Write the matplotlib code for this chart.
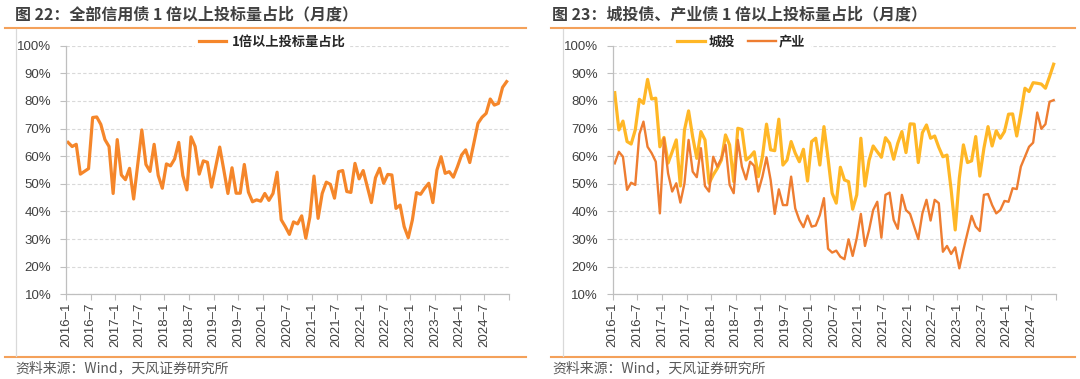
import matplotlib
matplotlib.use("Agg")
import matplotlib.pyplot as plt
from matplotlib.lines import Line2D
from matplotlib.ticker import FuncFormatter

# ---------------- data ----------------
tick_labels = ["2016–1", "2016–7", "2017–1", "2017–7", "2018–1", "2018–7",
               "2019–1", "2019–7", "2020–1", "2020–7", "2021–1", "2021–7",
               "2022–1", "2022–7", "2023–1", "2023–7", "2024–1", "2024–7"]

all_credit = [65, 63.5, 64.3, 53.5, 54.5, 55.5, 74, 74.2, 71.5, 66, 63.5, 46.5,
              66, 53.2, 51.5, 55.6, 44.5, 57, 69.5, 57, 54.5, 64.3, 53, 48.4,
              57.2, 56.5, 59, 65, 53, 47.8, 67, 63.5, 53.5, 58.3, 57.8, 48.8,
              56, 63.3, 55, 46.5, 55.8, 46.6, 46.6, 57, 47, 43.5, 44.2, 43.7,
              46.5, 44, 46.5, 54.2, 37, 34.5, 31.7, 36.2, 35.5, 38.4, 30.3, 38,
              52.8, 37.5, 46.5, 50.6, 49.8, 44.8, 54.4, 54.8, 47.2, 46.9, 57.4, 51.8,
              54.8, 49, 43.2, 52.2, 55.6, 50.2, 53.4, 53.2, 41.1, 42.3, 34.5, 30.5,
              36.9, 46.8, 46.2, 48.4, 50.2, 43.2, 55, 59.8, 53.8, 54.4, 52.4, 56.2,
              60.4, 62.3, 57.7, 64.7, 71.9, 74.1, 75.5, 80.7, 78.5, 79.1, 84.9, 87]

chengtou = [83, 69.5, 72.7, 65.3, 64.4, 69.5, 80.6, 79.1, 87.8, 80.7, 81, 63.4,
            66.8, 57.5, 61.6, 65.9, 49.2, 69.5, 76.4, 67, 59.2, 68.9, 65.9, 50.2,
            53.2, 55.6, 58.6, 67.7, 64.1, 50.8, 70.1, 69.7, 58.6, 59.8, 61.6, 52.6,
            59.8, 71.6, 62.3, 62, 73.4, 56.8, 58.6, 65.3, 61.1, 58, 62.5, 51,
            65.3, 66.5, 56.8, 70.7, 59.2, 46.6, 43, 56, 51.4, 50.8, 40.8, 46,
            66.5, 49.2, 58.5, 63.7, 61.6, 59.6, 66.7, 64.7, 58.9, 64.7, 68.9, 61.3,
            71.7, 71.6, 57.7, 68.5, 71.3, 66.5, 67.3, 63.2, 59.8, 60.4, 48, 33.3,
            52, 64.1, 57.7, 58.3, 67.1, 52.8, 62.9, 70.7, 63.7, 69.2, 66.5, 68.9,
            75.2, 75.3, 67.3, 75.5, 84.6, 83.4, 86.6, 86.4, 86.1, 84.6, 88.8, 93.3]

chanye = [57.4, 61.6, 59.8, 47.8, 50.4, 49.6, 68, 72.5, 63.4, 61.1, 58, 39.3,
          66.5, 53.8, 47.2, 50.2, 43.2, 50.2, 65.9, 54.4, 52.4, 62.9, 49.2, 47.2,
          59.8, 56.2, 59.2, 64.1, 49.6, 46.6, 65.9, 56.2, 51.6, 58, 56.5, 47.2,
          52.6, 59.6, 51.4, 39.1, 48, 42.3, 42.3, 52.6, 41.1, 36.9, 34.3, 38.5,
          34.5, 34.9, 38.7, 44.8, 26.5, 25.1, 25.8, 23.6, 22.7, 29.9, 23.9, 30.3,
          39.1, 27.5, 33.3, 40.5, 43.5, 30.5, 46, 46.8, 36.9, 33.7, 46, 40.5,
          39.1, 34.5, 30, 39.3, 44.2, 36.7, 44.2, 43, 25.4, 27.5, 24.6, 27,
          19.4, 26.1, 32.3, 38.4, 34.5, 32.9, 46, 46.3, 42.3, 39.3, 40.5, 43.8,
          43.5, 48.4, 48.1, 56.2, 59.8, 63.4, 64.9, 75.8, 69.9, 71.6, 79.7, 80.3]

titles = ["图 22：全部信用债 1 倍以上投标量占比（月度）",
          "图 23：城投债、产业债 1 倍以上投标量占比（月度）"]
source = "资料来源：Wind，天风证券研究所"

# ---------------- style ----------------
W, H = 1080, 379
CJK = ["Noto Sans CJK SC", "DejaVu Sans"]
NUM = ["Liberation Sans", "DejaVu Sans"]
TXT = "#404040"
GRID = "#D9D9D9"
AXC = "#BFBFBF"
C_ALL = "#F5862A"
C_CT = "#FFB726"
C_CY = "#EE7D31"
SEP = "#F4A15A"

fig = plt.figure(figsize=(W / 100, H / 100), dpi=100)


def fx(px):
    return px / W


def fy(py):
    return 1 - py / H


def make_axes(x0, x1):
    y0, y1 = 45.7, 294.3
    ax = fig.add_axes([fx(x0), fy(y1), fx(x1) - fx(x0), (y1 - y0) / H])
    n = len(all_credit)
    ax.set_xlim(-0.5, n - 0.5)
    ax.set_ylim(10, 100)
    ax.set_yticks(range(10, 101, 10))
    ax.yaxis.set_major_formatter(FuncFormatter(lambda v, p: f"{v:.0f}%"))
    ticks = [-0.5 + 6 * k for k in range(len(tick_labels))] + [n - 0.5]
    ax.set_xticks(ticks)
    ax.set_xticklabels(tick_labels + [""], rotation=90, fontfamily=NUM,
                       fontsize=9.5, color=TXT)
    for lab in ax.get_yticklabels():
        lab.set_fontfamily(NUM)
        lab.set_fontsize(9.5)
        lab.set_color(TXT)
    ax.tick_params(axis="x", length=4, width=0.8, color=AXC, pad=2)
    ax.tick_params(axis="y", length=4, width=0.8, color=AXC, pad=6.5)
    for s in ["top", "right"]:
        ax.spines[s].set_visible(False)
    for s in ["left", "bottom"]:
        ax.spines[s].set_color(AXC)
        ax.spines[s].set_linewidth(0.9)
    ax.grid(axis="y", color=GRID, linestyle=(0, (3, 2)), linewidth=0.8)
    ax.set_axisbelow(True)
    return ax


def style_legend(leg):
    fr = leg.get_frame()
    fr.set_edgecolor("white")
    fr.set_facecolor("white")
    fr.set_alpha(1)
    for t in leg.get_texts():
        t.set_color("#262626")


months = list(range(len(all_credit)))
leg_y = (294.3 - 41.5) / (294.3 - 45.7)

# left panel
ax1 = make_axes(66, 508.7)
ax1.plot(months, all_credit, color=C_ALL, linewidth=2.3, label="1倍以上投标量占比",
         solid_joinstyle="round")
leg1 = ax1.legend(loc="center", bbox_to_anchor=((272 - 66) / 442.7, leg_y), frameon=True,
                  prop={"family": CJK, "size": 9.5, "weight": "bold"},
                  handlelength=2.1, handletextpad=0.4, borderpad=0.3)
style_legend(leg1)

# right panel
ax2 = make_axes(612.7, 1055.7)
ax2.plot(months, chengtou, color=C_CT, linewidth=2.3, label="城投", solid_joinstyle="round")
ax2.plot(months, chanye, color=C_CY, linewidth=1.7, label="产业", solid_joinstyle="round")
leg2 = ax2.legend(loc="center", bbox_to_anchor=((741.5 - 612.7) / 443.0, leg_y), ncol=2,
                  frameon=True, prop={"family": CJK, "size": 9.5, "weight": "bold"},
                  handlelength=2.1, handletextpad=0.25, columnspacing=1.0, borderpad=0.3)
style_legend(leg2)

# titles and source text
for x0, t in zip([15, 552], titles):
    fig.text(fx(x0), fy(14), t, fontfamily=CJK, fontsize=11.5, fontweight="bold",
             color=TXT, ha="left", va="center")
    fig.text(fx(x0), fy(368), source, fontfamily=CJK, fontsize=10,
             color="#595959", ha="left", va="center")

# separators and frame lines
for xa, xb in [(5, 526), (551, 1075)]:
    fig.add_artist(Line2D([fx(xa), fx(xb)], [fy(27.7), fy(27.7)], color=SEP, linewidth=1.5))
    fig.add_artist(Line2D([fx(xa), fx(xb)], [fy(356.7), fy(356.7)], color=SEP, linewidth=1.5))
for xv in [16, 563.3]:
    fig.add_artist(Line2D([fx(xv), fx(xv)], [fy(28.5), fy(356)], color="#D9D9D9", linewidth=0.9))

fig.savefig("out.png", dpi=100)
